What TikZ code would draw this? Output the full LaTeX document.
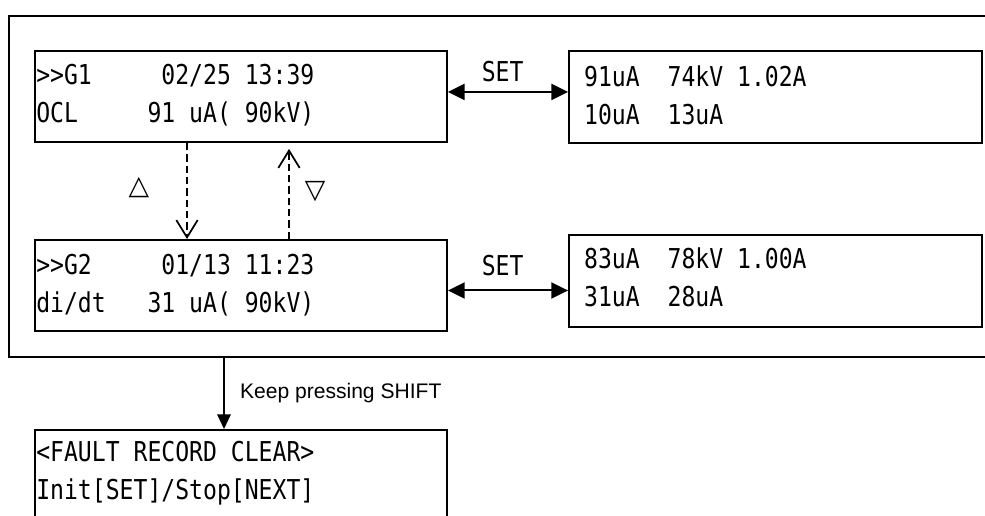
\documentclass[tikz,border=0pt]{standalone}
\usepackage{fontspec}
\setmainfont{Liberation Sans}
\newfontfamily\lcdfont{DejaVu Sans Mono}[FakeStretch=0.845]
\newfontfamily\symfont{DejaVu Sans}
\usetikzlibrary{arrows.meta,positioning}
\tikzset{
  lcdbox/.style={draw=black,line width=1.4pt,inner sep=0pt},
  lcdtext/.style={anchor=north west,inner sep=0pt,align=left,
    font=\lcdfont\fontsize{20.5}{28.5}\selectfont},
  setarrow/.style={{Triangle[length=12.5pt,width=12pt]}-{Triangle[length=12.5pt,width=12pt]},line width=1.5pt},
  scrollarrow/.style={-{Straight Barb[length=13pt,width=16pt,line width=1.3pt]},line width=1.3pt,dash pattern=on 5.5pt off 3pt},
  keyarrow/.style={-{Triangle[length=11pt,width=10pt]},line width=1.4pt}
}
\begin{document}
\begin{tikzpicture}[
    x=0.75pt,y=-0.75pt,
    screen/.style={lcdbox,minimum width=309pt,minimum height=68.25pt},
    setlabel/.style={font=\lcdfont\fontsize{20.5}{24}\selectfont,inner sep=0pt},
    tri/.style={font=\symfont\fontsize{20}{24}\selectfont,inner sep=0pt}
  ]
    \useasboundingbox (0,0) rectangle (985,516);
    \clip (0,0) rectangle (985,516);

    % group of fault records
    \node[lcdbox,minimum width=750.75pt,minimum height=255.75pt] (frame) at (509.5,186.5) {};

    \node[screen] (g1) at (241,96.5) {};
    \node[lcdtext] (g1txt) at (36,64) {>>G1~~~~~02/25~13:39\\OCL~~~~~91~uA(~90kV)};
    \node[screen,minimum width=309.75pt,minimum height=69pt] (d1) at (775.5,97) {};
    \node[lcdtext] (d1txt) at (570,65) {~91uA~~74kV~1.02A\\~10uA~~13uA};

    \node[screen] (g2) at (241,285.5) {};
    \node[lcdtext] (g2txt) at (36,253.5) {>>G2~~~~~01/13~11:23\\di/dt~~~31~uA(~90kV)};
    \node[screen,minimum width=309.75pt,minimum height=69pt] (d2) at (775.5,281) {};
    \node[lcdtext] (d2txt) at (570,247.5) {~83uA~~78kV~1.00A\\~31uA~~28uA};

    \draw[setarrow] ([yshift=3.4pt]g1.east) -- ([yshift=3.4pt]g1.east -| d1.west)
      node[setlabel,midway,above=7pt,xshift=-4pt] (set1) {SET};
    \draw[setarrow] ([yshift=-3.75pt]g2.east) -- ([yshift=-3.75pt]g2.east -| d2.west)
      node[setlabel,midway,above=10pt,xshift=-4pt] (set2) {SET};

    \draw[scrollarrow] ([xshift=-40.5pt]g1.south) -- ([xshift=-40.5pt]g2.north);
    \draw[scrollarrow,shorten >=4.5pt] ([xshift=36pt]g2.north) -- ([xshift=36pt]g1.south);
    \node[tri] (up) at (139,188) {△};
    \node[tri] (down) at (315,192) {▽};

    % clear screen
    \node[screen] (clr) at (241,475.5) {};
    \node[lcdtext] (clrtxt) at (36,440.5) {<FAULT~RECORD~CLEAR>\\Init[SET]/Stop[NEXT]};
    \draw[keyarrow] ([xshift=-12.75pt]clr.north |- frame.south) -- ([xshift=-12.75pt]clr.north)
      node[midway,anchor=west,xshift=8pt,font=\fontsize{15.8}{18}\selectfont] (keep) {Keep pressing SHIFT};
\end{tikzpicture}
\end{document}
